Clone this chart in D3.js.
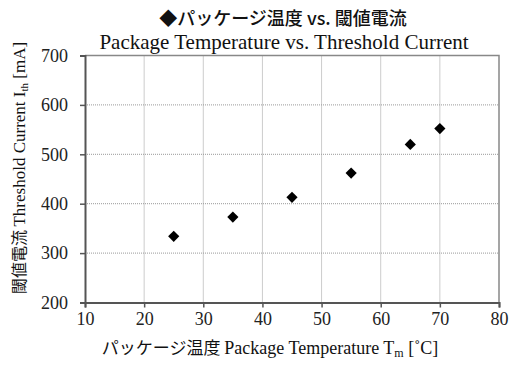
<!DOCTYPE html>
<html>
<head>
<meta charset="utf-8">
<script src="https://cdn.jsdelivr.net/npm/d3@7"></script>
<style>
  body { margin: 0; background: #fff; }
  .serif { font-family: "Liberation Serif", "DejaVu Serif", serif; }
  .jp { font-family: "Noto Sans CJK JP", sans-serif; }
</style>
</head>
<body>
<div id="chart"></div>
<script>
// data
const temperatures = [25, 35, 45, 55, 65, 70];
const thresholdCurrent = [334, 373, 413, 462, 520, 552];
const xTicks = [10, 20, 30, 40, 50, 60, 70, 80];
const yTicks = [200, 300, 400, 500, 600, 700];

const width = 513, height = 368;
const margin = { top: 55.5, right: 14, bottom: 65.5, left: 85 };

const svg = d3.select("#chart").append("svg")
    .attr("width", width)
    .attr("height", height);

const x = d3.scaleLinear().domain([10, 80]).range([margin.left, width - margin.right]);
const y = d3.scaleLinear().domain([200, 700]).range([height - margin.bottom, margin.top]);

// grid lines
svg.append("g")
    .selectAll("line.vx")
    .data(xTicks.slice(1, -1))
    .enter().append("line")
    .attr("x1", d => x(d)).attr("x2", d => x(d))
    .attr("y1", y(700)).attr("y2", y(200))
    .attr("stroke", "#999").attr("stroke-width", 1).attr("stroke-dasharray", "1,1");

svg.append("g")
    .selectAll("line.hy")
    .data(yTicks.slice(1, -1))
    .enter().append("line")
    .attr("x1", x(10)).attr("x2", x(80))
    .attr("y1", d => y(d)).attr("y2", d => y(d))
    .attr("stroke", "#999").attr("stroke-width", 1).attr("stroke-dasharray", "1,1");

// top and right border
svg.append("path")
    .attr("d", `M${x(10)},${y(700)}H${x(80)}V${y(200)}`)
    .attr("fill", "none").attr("stroke", "#888").attr("stroke-width", 1.5);

// axes
const xAxis = svg.append("g")
    .attr("transform", `translate(0,${y(200)})`)
    .call(d3.axisBottom(x).tickValues(xTicks).tickSize(5).tickPadding(5));
const yAxis = svg.append("g")
    .attr("transform", `translate(${x(10)},0)`)
    .call(d3.axisLeft(y).tickValues(yTicks).tickSize(5).tickPadding(12));

[xAxis, yAxis].forEach(a => {
    a.select(".domain").attr("stroke", "#555").attr("stroke-width", 2);
    a.selectAll(".tick line").attr("stroke", "#555").attr("stroke-width", 1.5);
    a.selectAll(".tick text")
        .attr("class", "serif")
        .style("font-size", "18px")
        .attr("fill", "#222");
});

// points
svg.append("g")
    .selectAll("path")
    .data(temperatures)
    .enter().append("path")
    .attr("d", d3.symbol().type(d3.symbolDiamond2).size(80))
    .attr("transform", (d, i) => `translate(${x(d)},${y(thresholdCurrent[i])})`)
    .attr("fill", "#000");

// titles
svg.append("text")
    .attr("x", 283).attr("y", 25)
    .attr("text-anchor", "middle")
    .attr("class", "jp")
    .style("font-size", "18px")
    .style("font-weight", "500")
    .attr("fill", "#111")
    .text("◆パッケージ温度 vs. 閾値電流");

svg.append("text")
    .attr("x", 284).attr("y", 49)
    .attr("text-anchor", "middle")
    .attr("class", "serif")
    .style("font-size", "21px")
    .attr("fill", "#111")
    .text("Package Temperature vs. Threshold Current");

// x axis label
const xl = svg.append("text")
    .attr("x", 270).attr("y", 354)
    .attr("text-anchor", "middle")
    .attr("fill", "#111")
    .style("font-size", "18px");
xl.append("tspan").attr("class", "jp").style("font-size", "17px").text("パッケージ温度 ");
xl.append("tspan").attr("class", "serif").text("Package Temperature T");
xl.append("tspan").attr("class", "serif").style("font-size", "12px").attr("dy", 3).text("m");
xl.append("tspan").attr("class", "serif").attr("dy", -3).text(" [˚C]");

// y axis label
const yl = svg.append("text")
    .attr("transform", "translate(25,168) rotate(-90)")
    .attr("text-anchor", "middle")
    .attr("fill", "#111")
    .style("font-size", "17px");
yl.append("tspan").attr("class", "jp").style("font-size", "16px").text("閾値電流 ");
yl.append("tspan").attr("class", "serif").text("Threshold Current  I");
yl.append("tspan").attr("class", "serif").style("font-size", "11px").attr("dy", 3).text("th");
yl.append("tspan").attr("class", "serif").attr("dy", -3).text(" [mA]");
</script>
</body>
</html>
